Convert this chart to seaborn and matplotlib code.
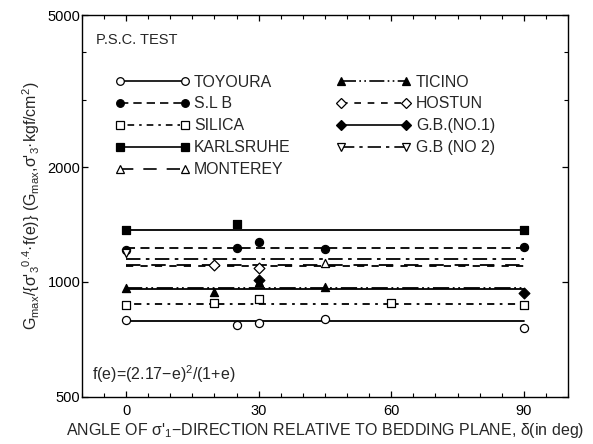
import matplotlib
matplotlib.use("Agg")
import matplotlib.pyplot as plt
from matplotlib.lines import Line2D
from matplotlib.ticker import FixedLocator, NullFormatter, MultipleLocator
import seaborn as sns
import pandas as pd

# ---- data ----
series = ["TOYOURA", "S.L B", "SILICA", "KARLSRUHE", "MONTEREY",
          "TICINO", "HOSTUN", "G.B.(NO.1)", "G.B (NO 2)"]
angles = {
    "TOYOURA":    [0, 25, 30, 45, 90],
    "S.L B":      [0, 25, 30, 45, 90],
    "SILICA":     [0, 20, 30, 60, 90],
    "KARLSRUHE":  [0, 25, 90],
    "MONTEREY":   [45],
    "TICINO":     [0, 20, 30, 45],
    "HOSTUN":     [20, 30],
    "G.B.(NO.1)": [30, 90],
    "G.B (NO 2)": [0],
}
values = {
    "TOYOURA":    [795, 772, 781, 800, 758],
    "S.L B":      [1213, 1228, 1272, 1220, 1235],
    "SILICA":     [870, 881, 902, 881, 870],
    "KARLSRUHE":  [1368, 1419, 1368],
    "MONTEREY":   [1121],
    "TICINO":     [965, 942, 1000, 971],
    "HOSTUN":     [1108, 1089],
    "G.B.(NO.1)": [1012, 936],
    "G.B (NO 2)": [1190],
}
levels = {
    "TOYOURA": 790, "S.L B": 1225, "SILICA": 878, "KARLSRUHE": 1368,
    "MONTEREY": 1110, "TICINO": 965, "HOSTUN": 1100, "G.B.(NO.1)": 958,
    "G.B (NO 2)": 1150,
}
angle_range = [0, 90]
xticks = [0, 30, 60, 90]
yticks = [500, 1000, 2000, 5000]
yminor = [3000, 4000]

# ---- styles ----
styles = {
    "TOYOURA":    dict(marker="o", fill=False, ls="-"),
    "S.L B":      dict(marker="o", fill=True, ls=(0, (5, 3))),
    "SILICA":     dict(marker="s", fill=False, ls=(0, (1.5, 3, 4, 3))),
    "KARLSRUHE":  dict(marker="s", fill=True, ls="-"),
    "MONTEREY":   dict(marker="^", fill=False, ls=(0, (8, 6))),
    "TICINO":     dict(marker="^", fill=True, ls=(0, (9, 2, 1, 2, 1, 2))),
    "HOSTUN":     dict(marker="D", fill=False, ls=(0, (4, 4))),
    "G.B.(NO.1)": dict(marker="D", fill=True, ls="-"),
    "G.B (NO 2)": dict(marker="v", fill=False, ls=(0, (8, 3, 2, 3))),
}

rows = []
for s in series:
    for a, v in zip(angles[s], values[s]):
        rows.append(dict(series=s, angle=a, value=v))
df = pd.DataFrame(rows)

sns.set_theme(style="ticks")
plt.rcParams["font.family"] = ["Liberation Sans", "DejaVu Sans"]
plt.rcParams["mathtext.fontset"] = "custom"
plt.rcParams["mathtext.rm"] = "Liberation Sans"
plt.rcParams["mathtext.it"] = "Liberation Sans"

fig = plt.figure(figsize=(5.93, 4.44), dpi=100)
ax = fig.add_axes([0.138, 0.106, 0.82, 0.86])

handles = []
for s in series:
    st = styles[s]
    ax.plot(angle_range, [levels[s], levels[s]], color="black", lw=1.3,
            linestyle=st["ls"], zorder=2)
    sub = df[df.series == s]
    fc = "black" if st["fill"] else "white"
    ms = 30 if st["marker"] in ("D",) else 34
    sns.scatterplot(data=sub, x="angle", y="value", ax=ax, marker=st["marker"],
                    color=fc, edgecolor="black", linewidth=0.9, s=ms,
                    zorder=3, legend=False)
    handles.append(Line2D([], [], color="black", lw=1.2, linestyle=st["ls"],
                          marker=st["marker"], markersize=5.5,
                          markerfacecolor=fc, markeredgecolor="black",
                          markeredgewidth=0.9, label=s))

ax.set_yscale("log")
ax.set_xlim(-10, 100)
ax.set_ylim(500, 5000)
ax.yaxis.set_major_locator(FixedLocator(yticks))
ax.yaxis.set_minor_locator(FixedLocator(yminor))
ax.yaxis.set_minor_formatter(NullFormatter())
ax.set_yticklabels([str(t) for t in yticks])
ax.xaxis.set_major_locator(FixedLocator(xticks))
ax.xaxis.set_minor_locator(MultipleLocator(5))
ax.tick_params(which="both", direction="in", top=True, right=True,
               colors="black", labelsize=10.5)
ax.tick_params(which="major", length=4, width=0.9)
ax.tick_params(which="minor", length=3, width=0.8)
ax.tick_params(axis="y", pad=1)
ax.tick_params(axis="x", pad=5)
for sp in ax.spines.values():
    sp.set_linewidth(1.0)
    sp.set_color("black")

ax.set_xlabel("ANGLE OF σ'$_1$−DIRECTION RELATIVE TO BEDDING PLANE, δ(in deg)",
              fontsize=11.5, labelpad=2)
ax.set_ylabel("G$_{max}$/{σ'$_3$$^{0.4}$·f(e)} (G$_{max}$,σ'$_3$·kgf/cm$^2$)",
              fontsize=11.5, labelpad=4)

ax.text(0.03, 0.935, "P.S.C. TEST", transform=ax.transAxes, fontsize=10.5,
        ha="left", va="center")
ax.text(0.02, 0.06, "f(e)=(2.17−e)$^2$/(1+e)", transform=ax.transAxes,
        fontsize=11.5, ha="left", va="center")

leg = ax.legend(handles=handles, ncol=2, loc="upper left",
                bbox_to_anchor=(0.055, 0.861), frameon=False, fontsize=11.4,
                handlelength=4.7, numpoints=2, labelspacing=0.44,
                columnspacing=2.9, handletextpad=0.3, borderaxespad=0)

fig.savefig("out.png", dpi=100)
